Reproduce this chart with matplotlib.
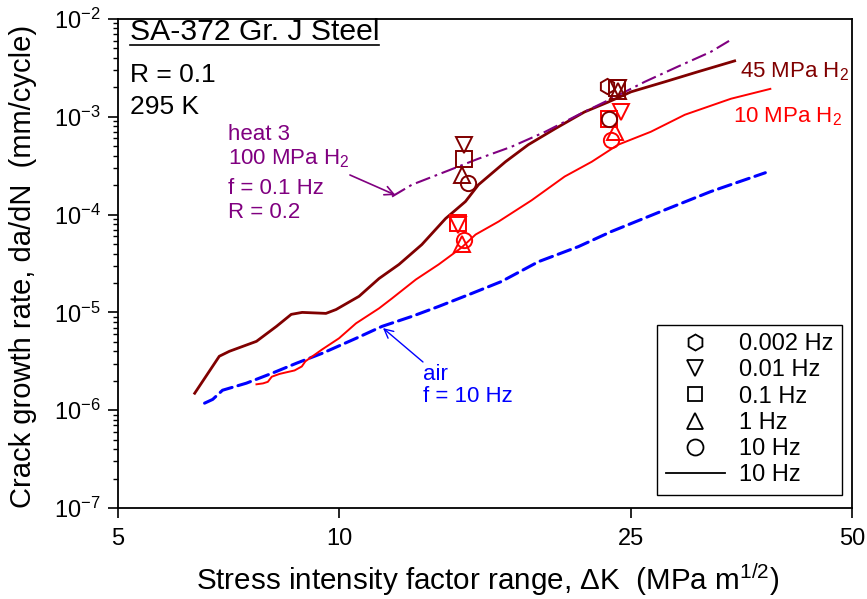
import matplotlib
matplotlib.use("Agg")
import matplotlib.pyplot as plt
from matplotlib.lines import Line2D
from matplotlib.ticker import FixedLocator, NullLocator, LogLocator, NullFormatter, FixedFormatter

plt.rcParams['font.family'] = ['Liberation Sans', 'DejaVu Sans']
plt.rcParams['mathtext.fontset'] = 'custom'
plt.rcParams['mathtext.rm'] = 'Liberation Sans'
plt.rcParams['mathtext.it'] = 'Liberation Sans:italic'
plt.rcParams['mathtext.default'] = 'regular'

# ---------------- data ----------------
h2_45_dk = [6.36, 6.87, 7.09, 7.72, 8.22, 8.61, 8.91, 9.60, 9.91, 10.65, 11.34, 12.07,
            12.97, 13.97, 14.87, 15.49, 16.86, 18.11, 19.70, 21.6, 23.3, 25.0, 27.8, 30.8, 34.6]
h2_45_da = [1.49e-6, 3.56e-6, 4.0e-6, 5.06e-6, 7.2e-6, 9.55e-6, 1.0e-5, 9.77e-6, 1.07e-5,
            1.46e-5, 2.22e-5, 3.09e-5, 4.94e-5, 9.1e-5, 1.36e-4, 2.02e-4, 3.47e-4, 5.18e-4,
            7.55e-4, 1.12e-3, 1.42e-3, 1.80e-3, 2.28e-3, 2.88e-3, 3.73e-3]

h2_10_dk = [7.72, 7.88, 8.0, 8.1, 8.3, 8.5, 8.7, 8.9, 9.0, 9.49, 10.0, 10.55, 11.34, 11.81,
            12.73, 13.67, 14.69, 15.35, 16.5, 18.3, 20.3, 22.1, 24.0, 26.6, 29.6, 34.2, 38.7]
h2_10_da = [1.84e-6, 1.88e-6, 1.95e-6, 2.2e-6, 2.35e-6, 2.45e-6, 2.55e-6, 2.8e-6, 3.16e-6,
            4.19e-6, 5.43e-6, 7.73e-6, 1.10e-5, 1.39e-5, 2.17e-5, 3.09e-5, 4.6e-5, 6.25e-5,
            8.49e-5, 1.4e-4, 2.45e-4, 3.47e-4, 5.18e-4, 7.03e-4, 1.05e-3, 1.53e-3, 1.93e-3]

air_dk = [6.56, 6.73, 6.94, 7.48, 8.11, 8.75, 9.49, 10.55, 11.45, 12.57, 13.67, 15.16,
          16.65, 18.7, 21.2, 23.5, 27.4, 32.1, 38.1]
air_da = [1.18e-6, 1.29e-6, 1.60e-6, 1.89e-6, 2.39e-6, 3.02e-6, 3.82e-6, 5.43e-6, 7.2e-6,
          9.1e-6, 1.15e-5, 1.56e-5, 2.07e-5, 3.3e-5, 4.71e-5, 6.71e-5, 1.07e-4, 1.72e-4, 2.68e-4]

heat3_dk = [11.81, 12.57, 13.97, 15.49, 17.18, 19.1, 21.2, 23.5, 26.1, 28.9, 32.1, 34.0]
heat3_da = [1.53e-4, 2.02e-4, 2.75e-4, 3.73e-4, 4.94e-4, 7.03e-4, 1.05e-3, 1.53e-3,
            2.28e-3, 3.24e-3, 4.61e-3, 5.97e-3]

# discrete tests, 45 MPa H2
p45_hex_dk, p45_hex_da = [23.2], [2.07e-3]
p45_dtri_dk, p45_dtri_da = [14.8, 24.0], [5.18e-4, 1.95e-3]
p45_sq_dk, p45_sq_da = [14.8, 23.9], [3.73e-4, 1.95e-3]
p45_utri_dk, p45_utri_da = [14.7, 24.0], [2.56e-4, 1.85e-3]
p45_circ_dk, p45_circ_da = [15.0, 23.3], [2.12e-4, 9.6e-4]

# discrete tests, 10 MPa H2
p10_dtri_dk, p10_dtri_da = [14.55, 24.2], [7.8e-5, 1.12e-3]
p10_sq_dk, p10_sq_da = [14.55, 23.3], [8.3e-5, 9.6e-4]
p10_utri_dk, p10_utri_da = [14.7, 23.8], [5.06e-5, 7.0e-4]
p10_circ_dk, p10_circ_da = [14.8, 23.5], [5.56e-5, 5.8e-4]

x_ticks = [5, 10, 25, 50]
x_tick_labels = ['5', '10', '25', '50']
legend_labels = ['0.002 Hz', '0.01 Hz', '0.1 Hz', '1 Hz', '10 Hz', '10 Hz']

# ---------------- figure ----------------
DARK = '#800000'
RED = '#ff0000'
PURPLE = '#800080'
BLUE = '#0000ff'

fig = plt.figure(figsize=(8.67, 5.99), dpi=100)
ax = fig.add_axes([118/867, 1 - 508/599, (852-118)/867, (508-19)/599])
ax.set_xscale('log')
ax.set_yscale('log')
ax.set_xlim(5, 50)
ax.set_ylim(1e-7, 1e-2)

ax.plot(air_dk, air_da, color=BLUE, lw=2.2, ls=(0, (4.3, 2.0)), dash_capstyle='round')
ax.plot(h2_10_dk, h2_10_da, color=RED, lw=1.4)
ax.plot(h2_45_dk, h2_45_da, color=DARK, lw=2.0)
ax.plot(heat3_dk, heat3_da, color=PURPLE, lw=1.5, ls=(0, (7.3, 2.3, 1.3, 2.3)))

ms = 11
mew = 1.4
def pts(x, y, m, c):
    ax.plot(x, y, ls='none', marker=m, mfc='none', mec=c, ms=ms, mew=mew)

pts(p10_dtri_dk, p10_dtri_da, 'v', RED)
pts(p10_sq_dk, p10_sq_da, 's', RED)
pts(p10_utri_dk, p10_utri_da, '^', RED)
pts(p10_circ_dk, p10_circ_da, 'o', RED)
pts(p45_hex_dk, p45_hex_da, 'h', DARK)
pts(p45_dtri_dk, p45_dtri_da, 'v', DARK)
pts(p45_sq_dk, p45_sq_da, 's', DARK)
pts(p45_utri_dk, p45_utri_da, '^', DARK)
pts(p45_circ_dk, p45_circ_da, 'o', DARK)

# axes / ticks
ax.xaxis.set_major_locator(FixedLocator(x_ticks))
ax.xaxis.set_major_formatter(FixedFormatter(x_tick_labels))
ax.xaxis.set_minor_locator(NullLocator())
ax.yaxis.set_major_locator(LogLocator(base=10, numticks=20))
ax.yaxis.set_minor_locator(LogLocator(base=10, subs=range(2, 10), numticks=20))
ax.yaxis.set_minor_formatter(NullFormatter())
ax.tick_params(which='major', direction='out', length=7.5, width=1.2, labelsize=17, pad=5)
ax.tick_params(which='minor', direction='out', length=3.8, width=1.0)
ax.tick_params(axis='x', pad=7)
for s in ax.spines.values():
    s.set_linewidth(1.3)

ax.set_xlabel(r'Stress intensity factor range, $\Delta$K  (MPa m$^{1/2}$)', fontsize=21.3)
ax.set_ylabel('Crack growth rate, da/dN  (mm/cycle)', fontsize=21)
ax.xaxis.set_label_coords(0.503, -0.11)
ax.yaxis.set_label_coords(-0.11, 0.495)

# texts
title = ax.text(0.016, 0.973, 'SA-372 Gr. J Steel', transform=ax.transAxes, fontsize=21.7,
                ha='left', va='center')
ax.text(0.016, 0.885, 'R = 0.1', transform=ax.transAxes, fontsize=19, ha='left', va='center')
ax.text(0.016, 0.820, '295 K', transform=ax.transAxes, fontsize=19, ha='left', va='center')

ax.text(0.847, 0.892, '45 MPa H$_2$', transform=ax.transAxes, fontsize=16, color=DARK,
        ha='left', va='center')
ax.text(0.838, 0.800, '10 MPa H$_2$', transform=ax.transAxes, fontsize=16, color=RED,
        ha='left', va='center')

for txt, yy in [('heat 3', 0.763), ('100 MPa H$_2$', 0.714), ('f = 0.1 Hz', 0.654), ('R = 0.2', 0.605)]:
    ax.text(0.150, yy, txt, transform=ax.transAxes, fontsize=16, color=PURPLE, ha='left', va='center')
ax.annotate('', xy=(0.378, 0.640), xytext=(0.316, 0.681), xycoords='axes fraction',
            arrowprops=dict(arrowstyle='->', color=PURPLE, lw=1.2, mutation_scale=16,
                            shrinkA=0, shrinkB=0))

ax.text(0.4155, 0.274, 'air', transform=ax.transAxes, fontsize=16, color=BLUE, ha='left', va='center')
ax.text(0.4155, 0.227, 'f = 10 Hz', transform=ax.transAxes, fontsize=16, color=BLUE, ha='left', va='center')
ax.annotate('', xy=(0.361, 0.368), xytext=(0.4155, 0.2986), xycoords='axes fraction',
            arrowprops=dict(arrowstyle='->', color=BLUE, lw=1.0, mutation_scale=16,
                            shrinkA=0, shrinkB=0))

# legend
handles = [
    Line2D([], [], ls='none', marker='h', mfc='none', mec='black', ms=11.5, mew=1.3),
    Line2D([], [], ls='none', marker='v', mfc='none', mec='black', ms=11.5, mew=1.3),
    Line2D([], [], ls='none', marker='s', mfc='none', mec='black', ms=10, mew=1.3),
    Line2D([], [], ls='none', marker='^', mfc='none', mec='black', ms=11.5, mew=1.3),
    Line2D([], [], ls='none', marker='o', mfc='none', mec='black', ms=11.5, mew=1.3),
    Line2D([], [], color='black', lw=1.3),
]
leg = ax.legend(handles, legend_labels, loc='lower right', bbox_to_anchor=(0.986, 0.027),
                fontsize=17, frameon=True, fancybox=False, edgecolor='black', framealpha=1,
                handlelength=2.5, handletextpad=0.6, labelspacing=0.18, borderpad=0.36,
                borderaxespad=0)
leg.get_frame().set_linewidth(1.0)

# underline the title
fig.canvas.draw()
bb = title.get_window_extent().transformed(ax.transAxes.inverted())
ax.plot([bb.x0, bb.x1], [bb.y0 + 0.002, bb.y0 + 0.002], color='black', lw=1.2,
        transform=ax.transAxes, clip_on=False)

fig.savefig('out.png', dpi=100)
